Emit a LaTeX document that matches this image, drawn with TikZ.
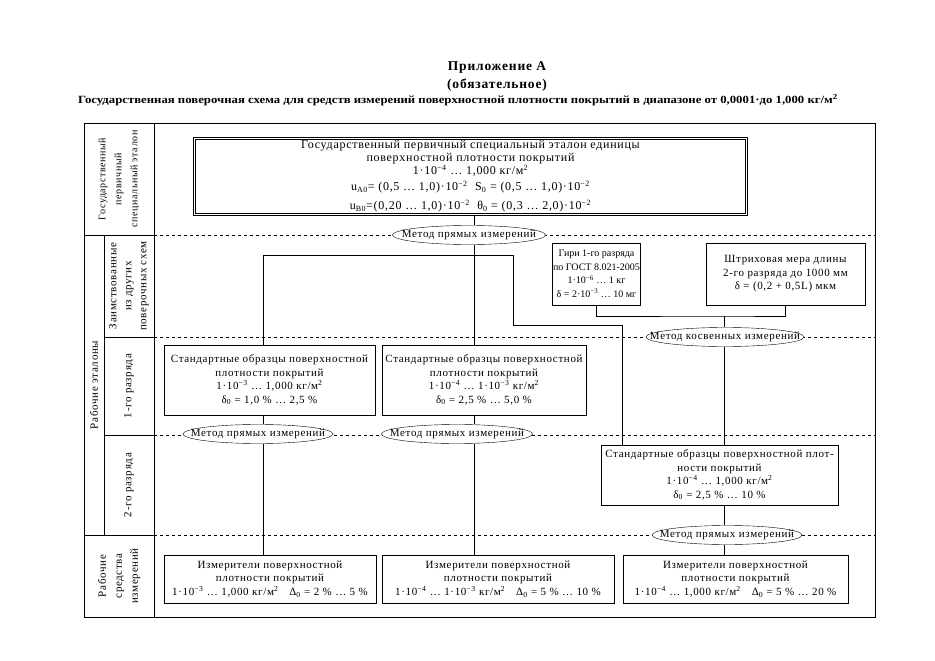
\documentclass[tikz,border=0pt]{standalone}
\usepackage{graphicx}
\usepackage{fontspec}
\setmainfont{Liberation Serif}
\newfontfamily\wideserif[LetterSpace=6]{Liberation Serif}
\usetikzlibrary{shapes.geometric}

\begin{document}
\begin{tikzpicture}[x=1pt,y=-1pt,
    box/.style={draw,shape=rectangle,align=center,inner sep=1pt,font=\wideserif\fontsize{11}{13.5}\selectfont},
    metod/.style={draw,shape=ellipse,fill=white,inner sep=0pt,minimum height=19pt,font=\wideserif\fontsize{11}{12}\selectfont},
    vlabel/.style={rotate=90,align=center,font=\wideserif\fontsize{11}{15}\selectfont}]

\useasboundingbox (0,0) rectangle (935,661);

% titles
\path (497,67) node[font=\wideserif\bfseries\fontsize{13.5}{15}\selectfont] (title) {Приложение А};
\path (title) +(0,18) node[font=\wideserif\bfseries\fontsize{13.5}{15}\selectfont] (oblig) {(обязательное)};
\path (458,100) node[font=\bfseries\fontsize{11}{12}\selectfont] (caption) {\resizebox{760pt}{\height}{Государственная поверочная схема для средств измерений поверхностной плотности покрытий в диапазоне от 0,0001·до 1,000 кг/м\textsuperscript{2}}};

% frame and rows
\draw (84,123) rectangle (875,617);
\draw (154,123) -- (154,617);
\draw (104,235) -- (104,535);
\draw (84,235) -- (154,235);
\draw (104,337) -- (154,337);
\draw (104,435) -- (154,435);
\draw (84,535) -- (154,535);
\foreach \y in {235,337,435,535}
    \draw[dashed] (154,\y) -- (875,\y);

% row labels
\path (119,179) node[vlabel,font=\wideserif\fontsize{10}{16}\selectfont] (lgos) {Государственный\\первичный\\специальный эталон};
\path (129,286) node[vlabel] (lzaim) {Заимствованные\\из других\\поверочных схем};
\path (129,386) node[vlabel] (lrazr1) {1-го разряда};
\path (129,485) node[vlabel] (lrazr2) {2-го разряда};
\path (94,385) node[vlabel] (lrab) {Рабочие эталоны};
\path (119,576) node[vlabel,font=\wideserif\fontsize{11}{16}\selectfont] (lsi) {Рабочие\\средства\\измерений};

\begin{scope}[every node/.style={box}]
    \path (470.5,176.5) node[double,double distance=1.6pt,minimum width=552pt,minimum height=76pt,
                             font=\wideserif\fontsize{12}{13}\selectfont] (etalon)
        {Государственный первичный специальный эталон единицы\\
         поверхностной плотности покрытий\\
         1·10\textsuperscript{−4} … 1,000 кг/м\textsuperscript{2}\\[3pt]
         u\textsubscript{A0}= (0,5 … 1,0)·10\textsuperscript{−2}\ \ S\textsubscript{0} = (0,5 … 1,0)·10\textsuperscript{−2}\\[6pt]
         u\textsubscript{B0}=(0,20 … 1,0)·10\textsuperscript{−2}\ \ θ\textsubscript{0} = (0,3 … 2,0)·10\textsuperscript{−2}};
    \path (596.5,274) node[minimum width=87pt,minimum height=62pt,inner sep=0.5pt,font=\fontsize{10}{13.5}\selectfont] (giri)
        {Гири 1-го разряда\\по ГОСТ 8.021-2005\\1·10\textsuperscript{−6} … 1 кг\\δ = 2·10\textsuperscript{−3} … 10 мг};
    \path (giri) +(189,0) node[minimum width=159pt,minimum height=62pt] (shtrih)
        {Штриховая мера длины\\2-го разряда до 1000 мм\\δ = (0,2 + 0,5L) мкм};
    \path (269.5,380) node[minimum width=211pt,minimum height=70pt] (so1)
        {Стандартные образцы поверхностной\\плотности покрытий\\1·10\textsuperscript{−3} … 1,000 кг/м\textsuperscript{2}\\δ\textsubscript{0} = 1,0 \% … 2,5 \%};
    \path (so1) +(214.5,0) node[minimum width=204pt,minimum height=70pt] (so2)
        {Стандартные образцы поверхностной\\плотности покрытий\\1·10\textsuperscript{−4} … 1·10\textsuperscript{−3} кг/м\textsuperscript{2}\\δ\textsubscript{0} = 2,5 \% … 5,0 \%};
    \path (719.5,475) node[minimum width=237pt,minimum height=60pt] (so3)
        {Стандартные образцы поверхностной плот-\\ности покрытий\\1·10\textsuperscript{−4} … 1,000 кг/м\textsuperscript{2}\\δ\textsubscript{0} = 2,5 \% … 10 \%};
    \path (270,579) node[minimum width=212pt,minimum height=48pt] (izm1)
        {Измерители поверхностной\\плотности покрытий\\1·10\textsuperscript{−3} … 1,000 кг/м\textsuperscript{2}\quad Δ\textsubscript{0} = 2 \% … 5 \%};
    \path (izm1) +(228,0) node[minimum width=232pt,minimum height=48pt] (izm2)
        {Измерители поверхностной\\плотности покрытий\\1·10\textsuperscript{−4} … 1·10\textsuperscript{−3} кг/м\textsuperscript{2}\quad Δ\textsubscript{0} = 5 \% … 10 \%};
    \path (izm2) +(237.5,0) node[minimum width=225pt,minimum height=48pt] (izm3)
        {Измерители поверхностной\\плотности покрытий\\1·10\textsuperscript{−4} … 1,000 кг/м\textsuperscript{2}\quad Δ\textsubscript{0} = 5 \% … 20 \%};
\end{scope}

% methods
\path (469,235) node[metod,minimum width=153pt] (mp0) {\makebox[0pt]{Метод прямых измерений}};
\path (725,337) node[metod,minimum width=158pt] (mkos) {\makebox[0pt]{Метод косвенных измерений}};
\path (258,434) node[metod,minimum width=150pt] (mp1) {\makebox[0pt]{Метод прямых измерений}};
\path (457,434) node[metod,minimum width=151pt] (mp2) {\makebox[0pt]{Метод прямых измерений}};
\path (727,535) node[metod,minimum width=150pt] (mp3) {\makebox[0pt]{Метод прямых измерений}};

% connectors
\coordinate (trunk) at (474,255);
\coordinate (brL) at (263,255);
\coordinate (brR) at (513,255);
\coordinate (kink) at (622,325);
\coordinate (brK) at (724,316);

\draw (etalon.south -| trunk) -- (trunk |- mp0.north);
\draw (trunk |- mp0.south) -- (trunk |- so2.north);
\draw (so1.north -| brL) -- (brL) -- (brR) |- (kink) -- (kink |- so3.north);
\draw (giri.south) |- (brK) -| (shtrih.south);
\draw (brK) -- (brK |- mkos.north);
\draw (brK |- mkos.south) -- (brK |- so3.north);
\draw (so1.south -| brL) -- (brL |- mp1.north);
\draw (brL |- mp1.south) -- (brL |- izm1.north);
\draw (so2.south -| trunk) -- (trunk |- mp2.north);
\draw (trunk |- mp2.south) -- (trunk |- izm2.north);
\draw (so3.south -| brK) -- (brK |- mp3.north);
\draw (brK |- mp3.south) -- (brK |- izm3.north);

\end{tikzpicture}
\end{document}
